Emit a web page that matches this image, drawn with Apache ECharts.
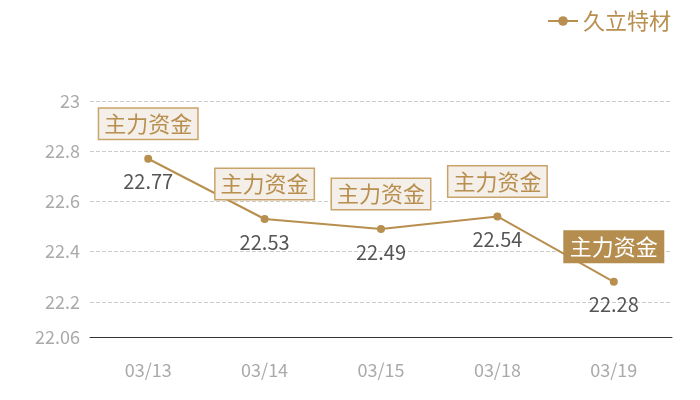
<!DOCTYPE html>
<html><head><meta charset="utf-8">
<script src="https://cdn.jsdelivr.net/npm/echarts@6/dist/echarts.min.js"></script>
<style>html,body{margin:0;padding:0;background:#fff}#c{width:700px;height:400px}</style>
</head><body><div id="c"></div>
<script>
const categories = ['03/13','03/14','03/15','03/18','03/19'];
const seriesName = '久立特材';
const values = [22.77, 22.53, 22.49, 22.54, 22.28];
const markText = '主力资金';
const highlightIndex = 4;

const gold = '#b88f4f';
const font = '"Noto Sans CJK SC", "Noto Sans", sans-serif';

const markData = categories.map((c, i) => {
  const hl = i === highlightIndex;
  return {
    coord: [c, values[i]],
    label: {
      color: hl ? '#fff' : gold,
      backgroundColor: hl ? '#b58d4e' : '#f4efe8',
      borderColor: hl ? '#b58d4e' : '#c9a46a',
    }
  };
});

const chart = echarts.init(document.getElementById('c'));
chart.setOption({
  animation: false,
  textStyle: { fontFamily: font },
  legend: {
    right: 24, top: 5,
    itemWidth: 30, itemHeight: 12, itemGap: 6,
    textStyle: { color: gold, fontSize: 22, fontFamily: font },
    data: [seriesName]
  },
  grid: { left: 90, right: 28, top: 101, bottom: 63 },
  xAxis: {
    type: 'category',
    data: categories,
    boundaryGap: true,
    axisLine: { lineStyle: { color: '#333', width: 1 } },
    axisTick: { show: false },
    axisLabel: { color: '#aaa', fontSize: 18, margin: 24, fontFamily: font },
    splitLine: { show: false }
  },
  yAxis: {
    type: 'value',
    min: 22.06, max: 23,
    axisLine: { show: false },
    axisTick: { show: false },
    axisLabel: { color: '#aaa', fontSize: 18, margin: 10, fontFamily: font },
    splitLine: { lineStyle: { color: '#ccc', type: 'dashed' } }
  },
  series: [{
    name: seriesName,
    type: 'line',
    data: values,
    symbol: 'circle',
    symbolSize: 8,
    lineStyle: { color: gold, width: 2 },
    itemStyle: { color: gold },
    label: {
      show: true, position: 'bottom', distance: 9,
      color: '#555', fontSize: 20, fontFamily: font
    },
    markPoint: {
      symbol: 'rect',
      symbolSize: 0,
      label: {
        show: true,
        formatter: markText,
        fontSize: 22,
        fontFamily: font,
        borderWidth: 1.5,
        padding: [5, 5, 3, 5],
        offset: [0, -35]
      },
      data: markData
    }
  }]
});
</script></body></html>
